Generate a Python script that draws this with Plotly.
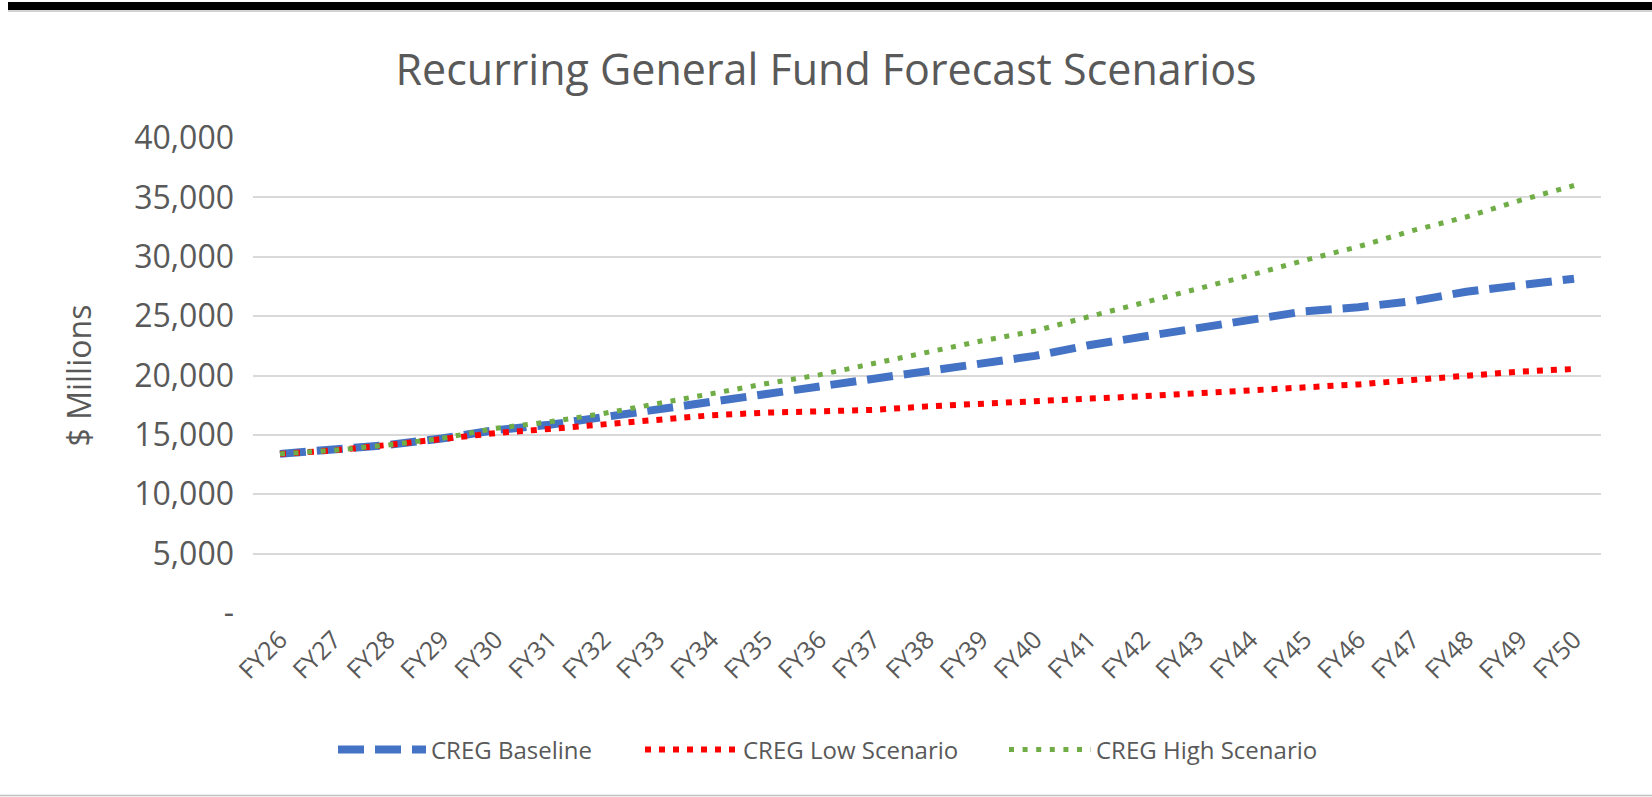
import plotly.graph_objects as go

years = ["FY26", "FY27", "FY28", "FY29", "FY30", "FY31", "FY32", "FY33", "FY34", "FY35",
         "FY36", "FY37", "FY38", "FY39", "FY40", "FY41", "FY42", "FY43", "FY44", "FY45",
         "FY46", "FY47", "FY48", "FY49", "FY50"]

baseline = [13400, 13700, 14150, 14700, 15400, 15850, 16500, 17200, 17850, 18400,
            19000, 19750, 20350, 21050, 21650, 22550, 23250, 24000, 24550, 25400,
            25750, 26250, 27050, 27650, 28150]

low = [13400, 13700, 14150, 14700, 15150, 15500, 15900, 16300, 16650, 16870,
       16950, 17100, 17400, 17650, 17850, 18050, 18250, 18500, 18680, 18900,
       19250, 19620, 20000, 20330, 20550]

high = [13400, 13700, 14150, 14700, 15550, 16100, 16800, 17650, 18450, 19300,
        20050, 20950, 21950, 22900, 23750, 24950, 26100, 27250, 28450, 29700,
        30850, 32200, 33350, 34750, 36000]

y_tick_values = [0, 5000, 10000, 15000, 20000, 25000, 30000, 35000, 40000]
y_tick_labels = ["-", "5,000", "10,000", "15,000", "20,000", "25,000", "30,000", "35,000", "40,000"]

series_names = ["CREG Baseline", "CREG Low Scenario", "CREG High Scenario"]

TXT = "#595959"
FONT = "Open Sans"

# plot area in pixels
L, R, T, B = 253, 1601, 138, 613
W, H = 1652, 797


def px_x(p):
    return (p - L) / (R - L)


def px_y(p):
    return (B - p) / (B - T)


fig = go.Figure()
fig.add_trace(go.Scatter(x=years, y=baseline, name=series_names[0], mode="lines",
                         legend="legend",
                         line=dict(color="#4472C4", width=8, dash="26px,11px")))
fig.add_trace(go.Scatter(x=years, y=low, name=series_names[1], mode="lines",
                         legend="legend2",
                         line=dict(color="#FF0000", width=6, dash="6px,8px")))
fig.add_trace(go.Scatter(x=years, y=high, name=series_names[2], mode="lines",
                         legend="legend3",
                         line=dict(color="#70AD47", width=5, dash="5px,8.6px")))

leg_common = dict(orientation="h", yanchor="middle", xanchor="left", y=px_y(750),
                  font=dict(family=FONT, size=24, color=TXT), bgcolor="rgba(0,0,0,0)",
                  borderwidth=0)

fig.update_layout(
    width=W, height=H,
    margin=dict(l=L, r=W - R, t=T, b=H - B, autoexpand=False),
    paper_bgcolor="white", plot_bgcolor="white",
    font=dict(family=FONT, color=TXT),
    title=dict(text="Recurring General Fund Forecast Scenarios",
               x=0.5, xref="container", xanchor="center",
               y=1 - 70 / H, yref="container", yanchor="middle",
               font=dict(family=FONT, size=43, color=TXT)),
    showlegend=True,
    legend=dict(leg_common, x=px_x(333), itemwidth=88),
    legend2=dict(leg_common, x=px_x(640), itemwidth=93),
    legend3=dict(leg_common, x=px_x(1004), itemwidth=82),
    xaxis=dict(type="category", range=[-0.5, 24.5], showgrid=False, showline=False,
               zeroline=False, ticks="", tickangle=-45, ticklabelstandoff=6,
               tickfont=dict(family=FONT, size=25, color=TXT), automargin=False),
    yaxis=dict(range=[0, 40000], tickvals=y_tick_values, ticktext=y_tick_labels,
               showgrid=True, gridcolor="#D9D9D9", gridwidth=1.5, zeroline=False,
               showline=False, ticks="", ticklabelstandoff=18,
               tickfont=dict(family=FONT, size=32, color=TXT), automargin=False,
               title=dict(text="$ Millions", standoff=33,
                          font=dict(family=FONT, size=32, color=TXT))),
    shapes=[
        dict(type="rect", xref="paper", yref="paper", x0=px_x(8), x1=px_x(W),
             y0=px_y(2), y1=px_y(10), fillcolor="black", line=dict(width=0)),
        dict(type="line", xref="paper", yref="paper", x0=px_x(8), x1=px_x(W),
             y0=px_y(11), y1=px_y(11), line=dict(color="#A6A6A6", width=1)),
        dict(type="line", xref="paper", yref="paper", x0=px_x(0), x1=px_x(W),
             y0=px_y(795.5), y1=px_y(795.5), line=dict(color="#BFBFBF", width=1.5)),
    ],
)

fig.write_html("out.html", config={"displayModeBar": False},
               post_script="document.body.style.margin='0';document.body.style.overflow='hidden';")
